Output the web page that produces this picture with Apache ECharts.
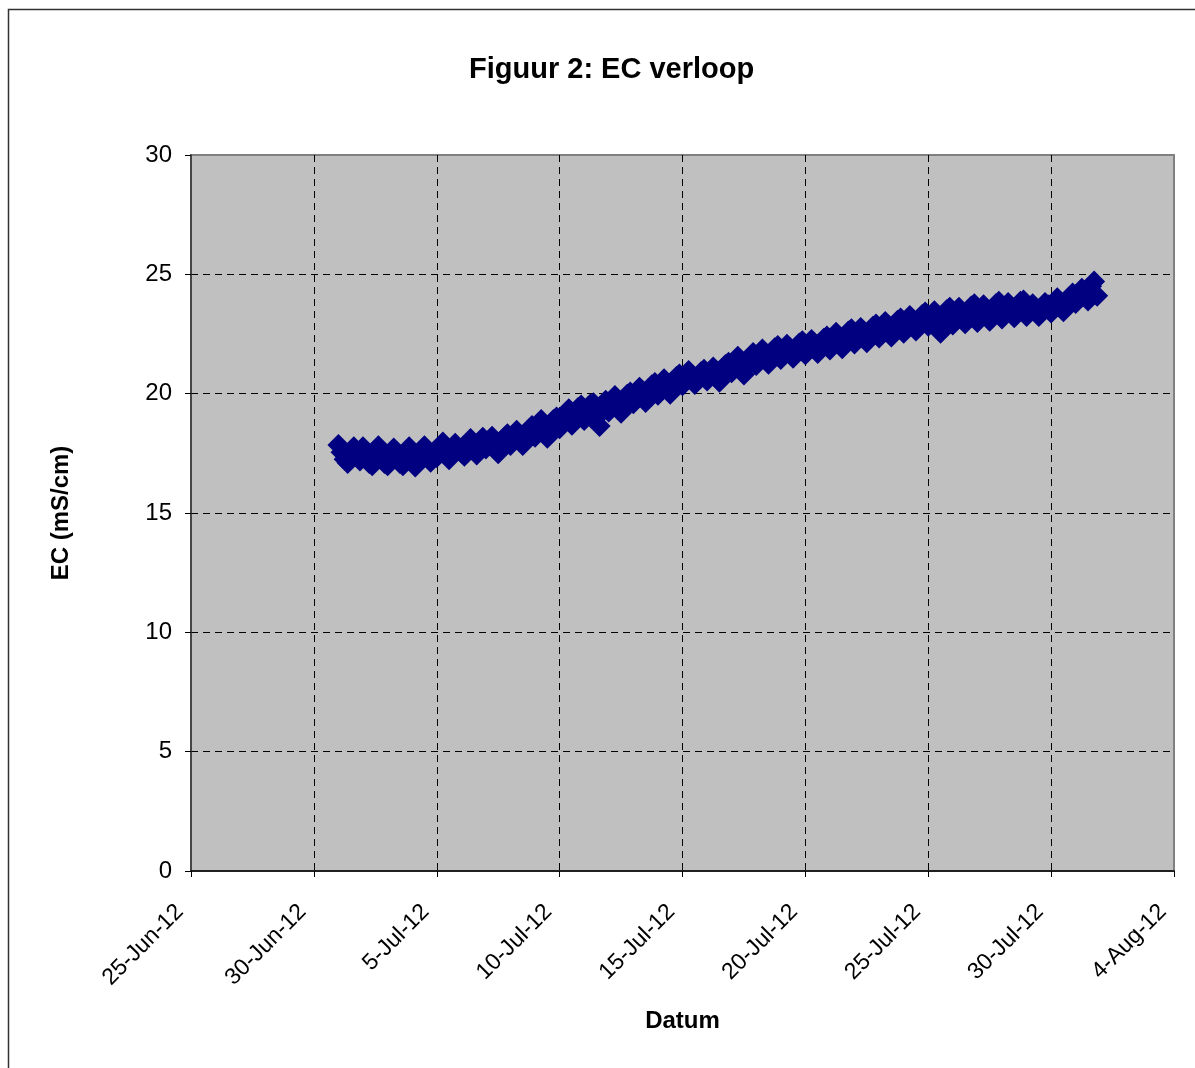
<!DOCTYPE html>
<html>
<head>
<meta charset="utf-8">
<script src="https://cdn.jsdelivr.net/npm/echarts@6/dist/echarts.min.js"></script>
<style>
html,body{margin:0;padding:0;background:#fff;}
#chart{width:1195px;height:1068px;}
</style>
</head>
<body>
<div id="chart"></div>
<script>
// Axis setup (x in days after 25-Jun-12)
const axisStartDate = '2012-06-25';
const xTickLabels = ['25-Jun-12','30-Jun-12','5-Jul-12','10-Jul-12','15-Jul-12','20-Jul-12','25-Jul-12','30-Jul-12','4-Aug-12'];
const yTickLabels = ['0','5','10','15','20','25','30'];

// Measurements: first sample 1-Jul-12 00:00, one sample every 3 hours
const firstSample = '2012-07-01T00:00:00Z';
const sampleHours = 3;
const ecValues = [
  17.85, 17.55, 17.25, 17.1, 17.4, 17.75, 17.5, 17.2,
  17.75, 17.5, 17.1, 17.0, 17.3, 17.8, 17.5, 17.1,
  17.0, 17.25, 17.7, 17.55, 17.1, 17.0, 17.45, 17.75,
  17.25, 16.95, 17.2, 17.6, 17.8, 17.45, 17.15, 17.55,
  17.35, 17.7, 17.95, 17.6, 17.25, 17.5, 17.9, 17.7,
  17.55, 17.4, 17.85, 18.1, 17.7, 17.45, 17.9, 18.15,
  17.7, 17.9, 18.2, 17.85, 17.5, 17.75, 18.15, 18.3,
  17.85, 18.1, 18.45, 18.2, 17.85, 18.1, 18.5, 18.65,
  18.2, 18.5, 18.9, 18.6, 18.15, 18.4, 18.9, 19.0,
  18.55, 18.9, 19.2, 19.35, 18.7, 18.95, 19.4, 19.5,
  18.9, 19.2, 19.55, 19.6, 19.0, 18.65, 19.35, 19.7,
  19.25, 19.55, 19.9, 19.75, 19.2, 19.5, 19.95, 20.05,
  19.6, 19.9, 20.25, 20.1, 19.65, 19.95, 20.35, 20.45,
  19.95, 20.25, 20.6, 20.45, 20.0, 20.3, 20.7, 20.8,
  20.35, 20.7, 20.95, 20.8, 20.4, 20.6, 20.9, 21.0,
  20.55, 20.85, 21.1, 20.95, 20.5, 20.8, 21.2, 21.3,
  20.9, 21.25, 21.55, 21.35, 20.8, 21.15, 21.55, 21.7,
  21.2, 21.55, 21.85, 21.7, 21.25, 21.5, 21.9, 22.0,
  21.45, 21.8, 22.05, 21.9, 21.5, 21.75, 22.1, 22.2,
  21.65, 22.0, 22.25, 22.1, 21.7, 21.9, 22.3, 22.4,
  21.85, 22.25, 22.55, 22.35, 21.9, 22.15, 22.6, 22.7,
  22.1, 22.45, 22.75, 22.6, 22.15, 22.4, 22.8, 22.9,
  22.35, 22.7, 23.0, 22.85, 22.4, 22.65, 23.05, 23.15,
  22.55, 22.95, 23.25, 23.1, 22.65, 22.9, 23.3, 23.4,
  22.85, 23.2, 23.45, 23.3, 22.55, 23.1, 23.5, 23.6,
  22.9, 23.3, 23.6, 23.4, 22.95, 23.2, 23.65, 23.75,
  23.0, 23.35, 23.7, 23.5, 23.05, 23.3, 23.75, 23.85,
  23.15, 23.5, 23.8, 23.6, 23.2, 23.4, 23.85, 23.9,
  23.25, 23.45, 23.75, 23.55, 23.25, 23.45, 23.8, 23.7,
  23.4, 23.7, 24.0, 23.85, 23.45, 23.7, 24.05, 24.2,
  23.8, 24.05, 24.4, 24.25, 23.9, 24.5, 24.7, 24.1
];

const DAY = 86400000;
const base = Date.parse(axisStartDate + 'T00:00:00Z');
const t0 = Date.parse(firstSample);
const points = ecValues.map((v, i) => [(t0 + i * sampleHours * 3600000 - base) / DAY, v]);

const chart = echarts.init(document.getElementById('chart'), null, {renderer: 'canvas'});
const FONT = 'Liberation Sans, Arial, sans-serif';
chart.setOption({
  animation: false,
  backgroundColor: '#ffffff',
  title: {
    text: 'Figuur 2: EC verloop',
    left: 464,
    top: 50,
    textStyle: {fontFamily: FONT, fontSize: 29, fontWeight: 'bold', color: '#000'}
  },
  graphic: [{
    type: 'rect',
    shape: {x: 8.5, y: 9.5, width: 1200, height: 1100},
    style: {fill: 'none', stroke: '#333', lineWidth: 1.5},
    silent: true, z: -1
  }],
  grid: {left: 191, top: 155, width: 983, height: 716, show: true, backgroundColor: '#c0c0c0', borderColor: '#808080', borderWidth: 2},
  xAxis: {
    type: 'value',
    min: 0, max: 40, interval: 5,
    name: 'Datum',
    nameLocation: 'middle',
    nameGap: 138,
    nameTextStyle: {fontFamily: FONT, fontSize: 24, fontWeight: 'bold', color: '#000'},
    axisLine: {show: true, onZero: false, lineStyle: {color: '#000', width: 1.5}},
    axisTick: {show: true, length: 6, lineStyle: {color: '#000'}},
    splitLine: {show: true, showMinLine: false, showMaxLine: false, lineStyle: {color: '#000', type: [7, 5], width: 1}},
    axisLabel: {
      rotate: 45,
      margin: 26,
      padding: [0, 16, 0, 0],
      fontFamily: FONT, fontSize: 23, color: '#000',
      formatter: (v) => xTickLabels[Math.round(v / 5)] || ''
    }
  },
  yAxis: {
    type: 'value',
    min: 0, max: 30, interval: 5,
    name: 'EC (mS/cm)',
    nameLocation: 'middle',
    nameGap: 118,
    nameTextStyle: {fontFamily: FONT, fontSize: 24, fontWeight: 'bold', color: '#000'},
    axisLine: {show: true, lineStyle: {color: '#333', width: 1.5}},
    axisTick: {show: true, length: 6, lineStyle: {color: '#000'}},
    splitLine: {show: true, showMinLine: false, showMaxLine: false, lineStyle: {color: '#000', type: [7, 5], width: 1}},
    axisLabel: {
      margin: 19,
      fontFamily: FONT, fontSize: 24, color: '#000',
      formatter: (v) => yTickLabels[Math.round(v / 5)] || ''
    }
  },
  series: [{
    type: 'scatter',
    data: points,
    symbol: 'diamond',
    symbolSize: 22,
    itemStyle: {color: '#000080', opacity: 1},
    clip: false
  }]
});
</script>
</body>
</html>
